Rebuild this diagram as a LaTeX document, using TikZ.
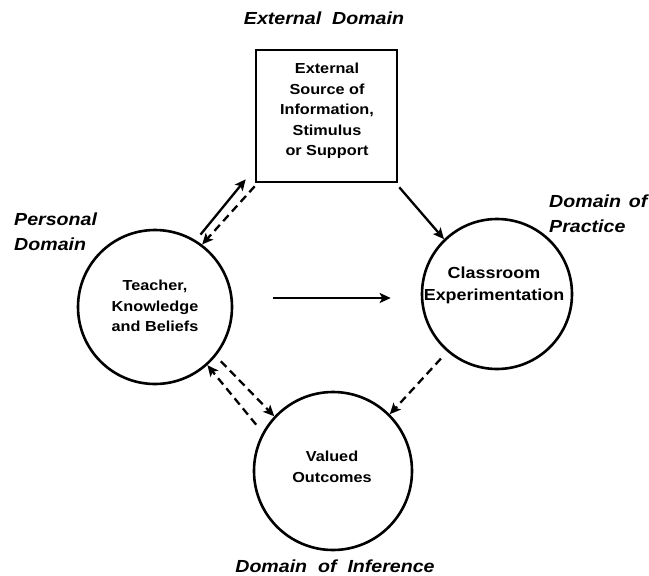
\documentclass[tikz,border=0pt]{standalone}
\usepackage{fontspec}
\setmainfont{Liberation Sans}
\newfontfamily\widesans[FakeStretch=1.12]{Liberation Sans}
\usetikzlibrary{arrows.meta}
\begin{document}
\begin{tikzpicture}[x=1pt,y=-1pt,
  every node/.style={inner sep=0pt},
  bubble/.style={circle, draw, line width=2.6pt},
  srcbox/.style={draw, line width=2.6pt, minimum width=141pt, minimum height=132pt},
  bodytext/.style={align=center, font=\widesans\bfseries\fontsize{14.5}{20.5}\selectfont},
  domlabel/.style={font=\widesans\bfseries\itshape\fontsize{17.5}{25}\selectfont},
  flow/.style={line width=2.3pt, -{Stealth[length=11pt,width=10pt,inset=2.5pt]}},
  dflow/.style={flow, dash pattern=on 8pt off 5pt}
]
\useasboundingbox (0,0) rectangle (649,576);
\fill[white] (0,0) rectangle (649,576);

% domain headings
\node[domlabel] (extdom) at (324,18) {External\ \ Domain};
\node[domlabel, anchor=west, align=left] (persdom) at (14,232) {Personal\\Domain};
\node[domlabel, anchor=west, align=left] (pracdom) at (549,214) {Domain\hspace{0.45em}of\\Practice};
\node[domlabel] (infdom) at (335,566) {Domain\ \ of\ \ Inference};

% the four elements
\node[srcbox] (box) at (326.5,116) {};
\node[bodytext] (boxtxt) at (327,111) {External\\Source of\\Information,\\Stimulus\\or Support};

\node[bubble, minimum size=154pt] (teacher) at (155,307) {};
\node[bodytext] (teachertxt) at (155,306) {Teacher,\\Knowledge\\and Beliefs};

\node[bubble, minimum size=150pt] (classroom) at (497,294) {};
\node[bodytext, font=\widesans\bfseries\fontsize{16}{22}\selectfont] (classtxt) at (494,285) {Classroom\\Experimentation};

\node[bubble, minimum size=158pt] (valued) at (333,471) {};
\node[bodytext] (valuedtxt) at (332,467) {Valued\\Outcomes};

% connectors
\draw[flow] ([shift={(4,-6)}]teacher.58) -- ([shift={(-9,-4)}]box.south west);
\draw[dflow] ([shift={(0,3)}]box.south west) -- (teacher.53);
\draw[flow] ([shift={(1,4)}]box.south east) -- (classroom.134);
\draw[flow] ([shift={(40,-9)}]teacher.east) -- ([shift={(-30,4)}]classroom.west);
\draw[dflow] ([shift={(-6,7)}]classroom.-131) -- (valued.45);
\draw[dflow] ([shift={(5,5)}]teacher.-39) -- (valued.137);
\draw[dflow] ([shift={(-8,-5)}]valued.149) -- (teacher.-48);
\end{tikzpicture}
\end{document}
